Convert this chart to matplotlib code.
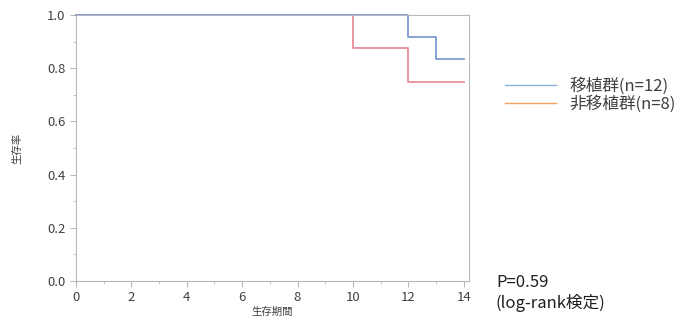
import numpy as np
import matplotlib
matplotlib.use("Agg")
import matplotlib.pyplot as plt
from matplotlib.ticker import MultipleLocator
from matplotlib.lines import Line2D

plt.rcParams['font.family'] = ['Noto Sans CJK JP', 'DejaVu Sans']

# Kaplan-Meier step data
tx_time = [0, 12, 13, 14]
tx_surv = [1.0, 0.917, 0.833, 0.833]
ntx_time = [0, 10, 12, 14]
ntx_surv = [1.0, 0.875, 0.75, 0.75]

labels = ['移植群(n=12)', '非移植群(n=8)']
p_text = 'P=0.59\n(log-rank検定)'

fig = plt.figure(figsize=(6.85, 3.33), dpi=100)
ax = fig.add_axes([0.111, 0.156, 0.574, 0.799])

ax.step(ntx_time, ntx_surv, where='post', color='#e8909c', lw=1.3, clip_on=False)
ax.step(tx_time, tx_surv, where='post', color='#7f9bd3', lw=1.3, clip_on=False)

ax.set_xlim(0, 14.2)
ax.set_ylim(0, 1.0)
ax.xaxis.set_major_locator(MultipleLocator(2))
ax.xaxis.set_minor_locator(MultipleLocator(1))
ax.yaxis.set_major_locator(MultipleLocator(0.2))
ax.yaxis.set_minor_locator(MultipleLocator(0.1))
ax.yaxis.set_major_formatter(matplotlib.ticker.FormatStrFormatter('%.1f'))

for s in ax.spines.values():
    s.set_color('#b8b8b8')
ax.tick_params(which='both', colors='#b8b8b8', labelcolor='#404040', labelsize=9.5)
ax.tick_params(which='major', length=4)
ax.tick_params(which='minor', length=2)

ax.set_xlabel('生存期間', fontsize=7.5, color='#404040', labelpad=2)
ax.set_ylabel('生存率', fontsize=7.5, color='#404040', labelpad=18)

handles = [Line2D([], [], color='#8cb2da', lw=1),
           Line2D([], [], color='#f4a15c', lw=1)]
fig.legend(handles, labels, loc='center left', bbox_to_anchor=(0.715, 0.715),
           frameon=False, fontsize=12, handlelength=3.1, handletextpad=0.8,
           labelspacing=0.0, labelcolor='#404040')

fig.text(0.724, 0.075, p_text, fontsize=12, color='#202020', linespacing=1.2)

fig.savefig('out.png', dpi=100)
